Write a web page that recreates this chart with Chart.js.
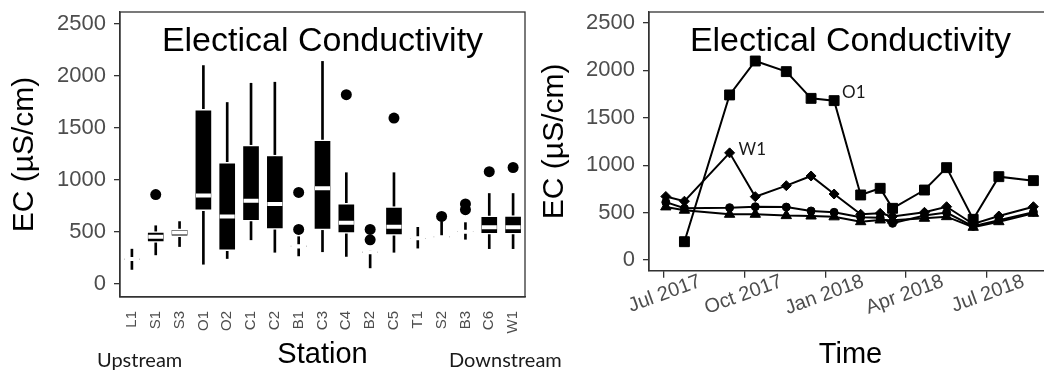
<!DOCTYPE html>
<html>
<head>
<meta charset="utf-8">
<script src="https://cdn.jsdelivr.net/npm/chart.js@4.4.1/dist/chart.umd.min.js"></script>
<style>
    html, body { margin: 0; padding: 0; background: #fff; overflow: hidden; }
    #wrap { position: relative; width: 1044px; height: 374px; overflow: hidden; }
    canvas { position: absolute; top: 0; }
    #boxChart { left: 0; }
    #lineChart { left: 530px; }
</style>
</head>
<body>
<div id="wrap">
    <canvas id="boxChart" width="600" height="374"></canvas>
    <canvas id="lineChart" width="530" height="374"></canvas>
</div>
<script>
// --- station boxplots (EC, µS/cm) ---
const stations = ['L1', 'S1', 'S3', 'O1', 'O2', 'C1', 'C2', 'B1', 'C3', 'C4', 'B2', 'C5', 'T1', 'S2', 'B3', 'C6', 'W1'];
const whiskerLow = [140, 280, 360, 190, 245, 425, 305, 270, 310, 265, 155, 305, 345, 440, 430, 340, 340];
const lowerQuart = [225, 400, 455, 705, 320, 605, 525, 350, 520, 487, 295, 468, 430, 445, 490, 478, 478];
const medians = [240, 455, 495, 850, 650, 800, 770, 360, 920, 590, 305, 550, 440, 450, 503, 545, 545];
const upperQuart = [255, 505, 530, 1680, 1170, 1335, 1240, 380, 1385, 776, 318, 745, 450, 460, 515, 655, 657];
const whiskerHigh = [335, 560, 600, 2100, 1745, 1930, 1940, 455, 2140, 1070, 318, 1070, 545, 600, 590, 870, 870];
const outliers = [
    ['S1', 860], ['B1', 880], ['B1', 525], ['C4', 1820], ['B2', 525], ['B2', 425],
    ['C5', 1595], ['S2', 650], ['B3', 770], ['B3', 715], ['C6', 1080], ['W1', 1120],
];
const ecTicks = [0, 500, 1000, 1500, 2000, 2500];

// --- time series ---
const sampleDates = [
    '2017-07-04', '2017-07-25', '2017-09-14', '2017-10-13', '2017-11-17', '2017-12-15', '2018-01-10', '2018-02-09',
    '2018-03-03', '2018-03-17', '2018-04-22', '2018-05-17', '2018-06-16', '2018-07-15', '2018-08-23',
];
const o1Series = [null, 193, 1741, 2099, 1987, 1705, 1681, 686, 756, 545, 738, 974, 429, 879, 837];
const w1Series = [670, 620, 1130, 668, 784, 886, 696, 482, 492, 460, 503, 562, 380, 464, 562];
const circleSeries = [610, 545, 552, 562, 558, 517, 503, 450, 445, 387, 470, 500, 355, 420, 505];
const triangleSeries = [560, 525, 482, 482, 468, 464, 455, 404, 422, 420, 440, 457, 345, 404, 492];
const quarterDates = ['2017-07-01', '2017-10-01', '2018-01-01', '2018-04-01', '2018-07-01'];
const quarterLabels = ['Jul 2017', 'Oct 2017', 'Jan 2018', 'Apr 2018', 'Jul 2018'];

// days since 1 Jul 2017, so a plain linear axis can stand in for time
function dayOf(s) {
    const [y, m, d] = s.split('-').map(Number);
    return (Date.UTC(y, m - 1, d) - Date.UTC(2017, 6, 1)) / 864e5;
}

const SANS = '"Liberation Sans", Arial, sans-serif';
Chart.defaults.font.family = SANS;
Chart.defaults.color = '#4d4d4d';
Chart.defaults.animation = false;
Chart.defaults.events = [];
Chart.defaults.plugins.legend.display = false;
Chart.defaults.plugins.tooltip.enabled = false;

const AXIS = '#333333';

// frame + in-panel title + free text
const panelDecor = {
    id: 'panelDecor',
    afterDraw(chart, args, opts) {
        const { ctx, chartArea: a } = chart;
        ctx.save();
        ctx.strokeStyle = AXIS;
        ctx.lineWidth = 1.3;
        ctx.strokeRect(a.left, a.top, a.right - a.left, a.bottom - a.top);

        ctx.fillStyle = '#000';
        ctx.textAlign = 'center';
        ctx.textBaseline = 'alphabetic';
        ctx.font = '34px ' + SANS;
        ctx.fillText(opts.title, (a.left + a.right) / 2, a.top + 38.5);

        ctx.textAlign = 'left';
        (opts.notes || []).forEach((n) => {
            ctx.font = n.font;
            ctx.fillStyle = '#1a1a1a';
            ctx.fillText(n.text, n.x, n.y);
        });

        // station names next to a given point of a series
        (opts.pointNotes || []).forEach((n) => {
            const pt = chart.getDatasetMeta(n.dataset).data[n.index];
            ctx.font = '17px Lato, sans-serif';
            ctx.fillStyle = '#1a1a1a';
            ctx.fillText(n.text, pt.x + n.dx, pt.y + n.dy);
        });
        ctx.restore();
    },
};

function fixedWidth(w) {
    return (s) => { s.width = w; s.paddingTop = 0; s.paddingBottom = 0; };
}
function fixedHeight(h) {
    return (s) => { s.height = h; s.paddingLeft = 0; s.paddingRight = 0; };
}

function ecAxis(min, max, width) {
    return {
        min,
        max,
        afterBuildTicks: (s) => { s.ticks = ecTicks.map((v) => ({ value: v })); },
        border: { display: true, color: AXIS, width: 1.3 },
        grid: { drawOnChartArea: false, drawTicks: true, tickLength: 6, color: AXIS, lineWidth: 1.3 },
        ticks: { padding: 8, color: '#4d4d4d', font: { size: 22 }, callback: (v) => String(v) },
        title: { display: true, text: 'EC (µS/cm)', color: '#000', font: { size: 30 }, padding: { top: 7, bottom: 0 } },
        afterFit: fixedWidth(width),
    };
}

new Chart(document.getElementById('boxChart'), {
    type: 'bar',
    data: {
        labels: stations,
        datasets: [
            {
                type: 'line',
                data: medians,
                showLine: false,
                pointStyle: 'line',
                pointRadius: 7.5,
                pointBorderWidth: 4,
                pointBorderColor: '#fff',
                order: 0,
            },
            {
                type: 'line',
                data: outliers.map(([s, v]) => ({ x: s, y: v })),
                showLine: false,
                pointRadius: 5.5,
                pointBackgroundColor: '#000',
                pointBorderWidth: 0,
                order: 0,
            },
            {
                data: stations.map((s, i) => [lowerQuart[i], upperQuart[i]]),
                backgroundColor: '#000',
                borderColor: '#fff',
                borderWidth: 1.5,
                borderSkipped: false,
                barThickness: 18,
                grouped: false,
                order: 1,
            },
            {
                data: stations.map((s, i) => [whiskerLow[i], whiskerHigh[i]]),
                backgroundColor: '#000',
                borderWidth: 0,
                barThickness: 2,
                grouped: false,
                order: 2,
            },
        ],
    },
    options: {
        responsive: false,
        layout: { padding: { top: 12, right: 75, left: 0, bottom: 0 } },
        scales: {
            x: {
                border: { display: true, color: AXIS, width: 1.3 },
                grid: { display: false, drawTicks: false },
                ticks: { autoSkip: false, minRotation: 90, maxRotation: 90, padding: 14, color: '#4d4d4d', font: { size: 15 } },
                title: { display: true, text: 'Station', color: '#000', font: { size: 29 }, padding: { top: 0, bottom: 2 } },
                afterFit: fixedHeight(77),
            },
            y: ecAxis(-125, 2615, 120),
        },
        plugins: {
            panelDecor: {
                title: 'Electical Conductivity',
                notes: [
                    { text: 'Upstream', x: 97, y: 367, font: '20px Lato, sans-serif' },
                    { text: 'Downstream', x: 449, y: 367, font: '20px Lato, sans-serif' },
                ],
            },
        },
    },
    plugins: [panelDecor],
});

function series(values, style, radius) {
    return {
        data: values.map((v, i) => ({ x: dayOf(sampleDates[i]), y: v })),
        borderColor: '#000',
        borderWidth: 2,
        tension: 0,
        pointStyle: style,
        pointRadius: radius,
        pointBackgroundColor: '#000',
        pointBorderColor: '#000',
        pointBorderWidth: 1,
    };
}

new Chart(document.getElementById('lineChart'), {
    type: 'line',
    data: {
        datasets: [
            series(o1Series, 'rect', 7),
            series(w1Series, 'rectRot', 5),
            series(circleSeries, 'circle', 4),
            series(triangleSeries, 'triangle', 6),
        ],
    },
    options: {
        responsive: false,
        layout: { padding: { top: 12, right: 4.5, left: 0, bottom: 0 } },
        scales: {
            x: {
                type: 'linear',
                min: -16,
                max: 439,
                afterBuildTicks: (s) => { s.ticks = quarterDates.map((d) => ({ value: dayOf(d) })); },
                border: { display: true, color: AXIS, width: 1.3 },
                grid: { drawOnChartArea: false, drawTicks: true, tickLength: 7, color: AXIS, lineWidth: 1.3 },
                ticks: {
                    minRotation: 20,
                    maxRotation: 20,
                    labelOffset: 37,
                    padding: -8,
                    color: '#4d4d4d',
                    font: { size: 20 },
                    callback: (v, i) => quarterLabels[i],
                },
                title: { display: true, text: 'Time', color: '#000', font: { size: 29 }, padding: { top: 0, bottom: 2 } },
                afterFit: fixedHeight(103.3),
            },
            y: ecAxis(-113, 2616, 119),
        },
        plugins: {
            panelDecor: {
                title: 'Electical Conductivity',
                pointNotes: [
                    { dataset: 0, index: 6, text: 'O1', dx: 8, dy: -3 },
                    { dataset: 1, index: 2, text: 'W1', dx: 9, dy: 2.3 },
                ],
            },
        },
    },
    plugins: [panelDecor],
});
</script>
</body>
</html>
